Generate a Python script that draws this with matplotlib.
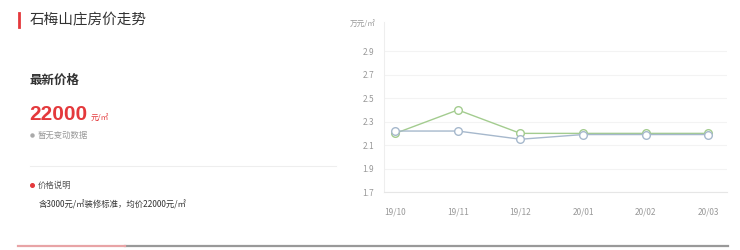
import matplotlib
matplotlib.use("Agg")
import matplotlib.pyplot as plt
from matplotlib.lines import Line2D

plt.rcParams['font.family'] = ['Noto Sans CJK SC', 'DejaVu Sans']

title = "石梅山庄房价走势"
months = ["19/10", "19/11", "19/12", "20/01", "20/02", "20/03"]
series_green = [2.20, 2.40, 2.20, 2.20, 2.20, 2.20]
series_blue = [2.22, 2.22, 2.15, 2.19, 2.19, 2.19]
yticks = [1.7, 1.9, 2.1, 2.3, 2.5, 2.7, 2.9]
latest_price = "22000"
unit = "元/㎡"
axis_unit = "万元/㎡"
no_change = "暂无变动数据"
note_title = "价格说明"
note_text = "含3000元/㎡装修标准，均价22000元/㎡"

W, H = 740, 250
fig = plt.figure(figsize=(W / 100, H / 100), dpi=100)
fig.patch.set_facecolor('white')

def fx(px):
    return px / W

def fy(py):
    return 1 - py / H

# Title with red bar
fig.add_artist(Line2D([fx(18.5), fx(18.5)], [fy(13), fy(27)], color='#e4393c', lw=2))
fig.text(fx(30), fy(20.5), title, fontsize=10.5, color='#333333', va='center', ha='left')

# Latest price block
fig.text(fx(30), fy(80), "最新价格", fontsize=9, fontweight='bold', color='#333333', va='center', ha='left')
fig.text(fx(29.5), fy(114.5), latest_price, fontsize=15, fontweight='bold', color='#e4393c',
         va='center', ha='left', family=['Liberation Sans', 'DejaVu Sans'])
fig.text(fx(91), fy(118), unit, fontsize=5.5, color='#e4393c', va='center', ha='left')
fig.add_artist(Line2D([fx(31.5)], [fy(135)], marker='o', markersize=2.2, color='#aaaaaa', lw=0))
fig.text(fx(38), fy(135), no_change, fontsize=6, color='#999999', va='center', ha='left')

# separator
fig.add_artist(Line2D([fx(30), fx(336)], [fy(166), fy(166)], color='#eeeeee', lw=0.8))

fig.add_artist(Line2D([fx(31.5)], [fy(185)], marker='o', markersize=2.6, color='#e4393c', lw=0))
fig.text(fx(38), fy(185), note_title, fontsize=6, color='#555555', va='center', ha='left')
fig.text(fx(39), fy(205), note_text, fontsize=6, color='#333333', va='center', ha='left')

# Bottom line
fig.add_artist(Line2D([fx(125), fx(728)], [fy(245.7), fy(245.7)], color='#999999', lw=1.6))
fig.add_artist(Line2D([fx(18), fx(125)], [fy(245.7), fy(245.7)], color='#e8a4a6', lw=1.6))

# Chart
ax = fig.add_axes([fx(384), fy(192), fx(727) - fx(384), fy(22) - fy(192)])
x = list(range(len(months)))
ax.plot(x, series_green, color='#a3cc8f', lw=1, marker='o', markersize=5.5,
        markerfacecolor='white', markeredgecolor='#a3cc8f', markeredgewidth=1, zorder=3)
ax.plot(x, series_blue, color='#a6b8cc', lw=1, marker='o', markersize=5.5,
        markerfacecolor='white', markeredgecolor='#a6b8cc', markeredgewidth=1, zorder=4)
ax.set_xlim(-0.18, 5.3)
ax.set_ylim(1.7, 3.15)
ax.set_yticks(yticks)
ax.set_yticklabels([f"{v:.1f}" for v in yticks])
ax.set_xticks(x)
ax.set_xticklabels(months)
ax.tick_params(axis='both', length=0, labelsize=6, labelcolor='#999999')
ax.tick_params(axis='x', pad=11)
ax.tick_params(axis='y', pad=7)
ax.grid(axis='y', color='#f3f3f3', lw=0.8)
ax.set_axisbelow(True)
for s in ['top', 'right']:
    ax.spines[s].set_visible(False)
ax.spines['left'].set_color('#eeeeee')
ax.spines['bottom'].set_color('#e6e6e6')
ax.spines['left'].set_linewidth(0.8)
ax.spines['bottom'].set_linewidth(0.8)
fig.text(fx(376), fy(24), axis_unit, fontsize=5.5, color='#999999', va='center', ha='right')

fig.savefig("out.png", dpi=100, facecolor='white')
